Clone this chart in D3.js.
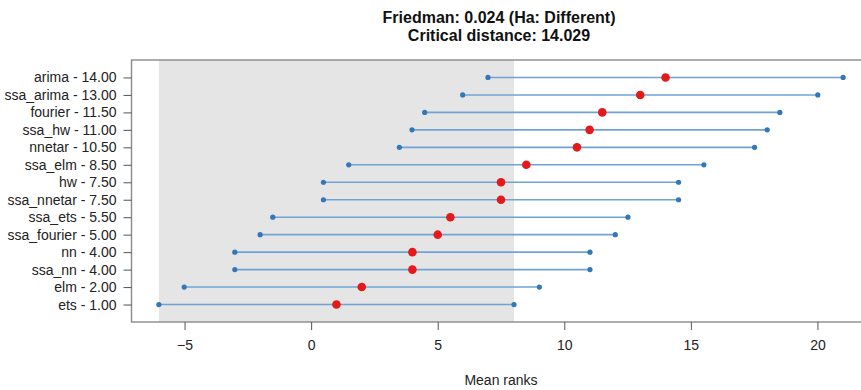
<!DOCTYPE html>
<html>
<head>
<meta charset="utf-8">
<script src="https://cdn.jsdelivr.net/npm/d3@7"></script>
<style>
  html, body { margin: 0; padding: 0; background: #fff; }
  svg { display: block; font-family: "Liberation Sans", Arial, Helvetica, sans-serif; }
</style>
</head>
<body>
<svg id="chart" width="861" height="390"></svg>
<script>
// Nemenyi-style comparison: methods, their mean ranks, critical distance
const methods = ["arima", "ssa_arima", "fourier", "ssa_hw", "nnetar", "ssa_elm", "hw",
                 "ssa_nnetar", "ssa_ets", "ssa_fourier", "nn", "ssa_nn", "elm", "ets"];
const meanRanks = [14.00, 13.00, 11.50, 11.00, 10.50, 8.50, 7.50, 7.50, 5.50, 5.00, 4.00, 4.00, 2.00, 1.00];
const friedmanP = "0.024";
const criticalDistance = 14.029;
const xTicks = [-5, 0, 5, 10, 15, 20];

const rows = methods.map((m, i) => ({
  name: m,
  rank: meanRanks[i],
  pos: methods.length - i,            // top row first
  lo: meanRanks[i] - criticalDistance / 2,
  hi: meanRanks[i] + criticalDistance / 2
}));

const svg = d3.select("#chart");

// x extent of all intervals with 4% padding each side
const lo = d3.min(rows, d => d.lo), hi = d3.max(rows, d => d.hi);
const pad = (hi - lo) * 0.04;
const x = d3.scaleLinear().domain([lo - pad, hi + pad]).range([131.5, 870.5]);
const y = d3.scaleLinear().domain([0, methods.length + 1]).range([322, 60]);

const [x0, x1] = x.range();
const [yb, yt] = y.range();

// shaded band: interval of the best-ranked method
const best = rows.reduce((a, b) => (b.rank < a.rank ? b : a));
svg.append("rect")
  .attr("x", x(best.lo)).attr("y", yt)
  .attr("width", x(best.hi) - x(best.lo)).attr("height", yb - yt)
  .attr("fill", "#e5e5e5");

// interval segments
const g = svg.append("g");
g.selectAll("line.seg").data(rows).join("line")
  .attr("class", "seg")
  .attr("x1", d => x(d.lo)).attr("x2", d => x(d.hi))
  .attr("y1", d => y(d.pos)).attr("y2", d => y(d.pos))
  .attr("stroke", "#6fa3d4").attr("stroke-width", 1.6);

// interval end points
g.selectAll("circle.end").data(rows.flatMap(d => [{v: d.lo, p: d.pos}, {v: d.hi, p: d.pos}])).join("circle")
  .attr("class", "end")
  .attr("cx", d => x(d.v)).attr("cy", d => y(d.p)).attr("r", 2.6)
  .attr("fill", "#3277b8");

// mean ranks
g.selectAll("circle.mean").data(rows).join("circle")
  .attr("class", "mean")
  .attr("cx", d => x(d.rank)).attr("cy", d => y(d.pos)).attr("r", 4.3)
  .attr("fill", "#e3191c");

// plot frame
svg.append("rect")
  .attr("x", x0).attr("y", yt).attr("width", x1 - x0).attr("height", yb - yt)
  .attr("fill", "none").attr("stroke", "#8a8a8a").attr("stroke-width", 1.4);

// y axis: method labels
const yAxis = d3.axisLeft(y)
  .tickValues(rows.map(d => d.pos))
  .tickFormat(p => { const r = rows.find(d => d.pos === p); return `${r.name} - ${r.rank.toFixed(2)}`; })
  .tickSize(8).tickPadding(7);
const ya = svg.append("g").attr("transform", `translate(${x0},0)`).call(yAxis);
ya.select(".domain").remove();
ya.selectAll("line").attr("stroke", "#555");
ya.selectAll("text").attr("font-size", 14).attr("fill", "#222")
  .attr("font-family", "'Liberation Sans', Arial, sans-serif");

// x axis
const xAxis = d3.axisBottom(x).tickValues(xTicks).tickFormat(d3.format("d")).tickSize(8).tickPadding(10);
const xa = svg.append("g").attr("transform", `translate(0,${yb})`).call(xAxis);
xa.select(".domain").remove();
xa.selectAll("line").attr("stroke", "#555");
xa.selectAll("text").attr("font-size", 14).attr("fill", "#222")
  .attr("font-family", "'Liberation Sans', Arial, sans-serif");

// titles
const cx = (x0 + x1) / 2;
svg.append("text").attr("x", cx - 2).attr("y", 23).attr("text-anchor", "middle")
  .attr("font-size", 16).attr("font-weight", "bold").attr("fill", "#111")
  .text(`Friedman: ${friedmanP} (Ha: Different)`);
svg.append("text").attr("x", cx - 2).attr("y", 41).attr("text-anchor", "middle")
  .attr("font-size", 16).attr("font-weight", "bold").attr("fill", "#111")
  .text(`Critical distance: ${criticalDistance.toFixed(3)}`);
svg.append("text").attr("x", cx).attr("y", 385).attr("text-anchor", "middle")
  .attr("font-size", 14).attr("fill", "#222")
  .text("Mean ranks");
</script>
</body>
</html>
